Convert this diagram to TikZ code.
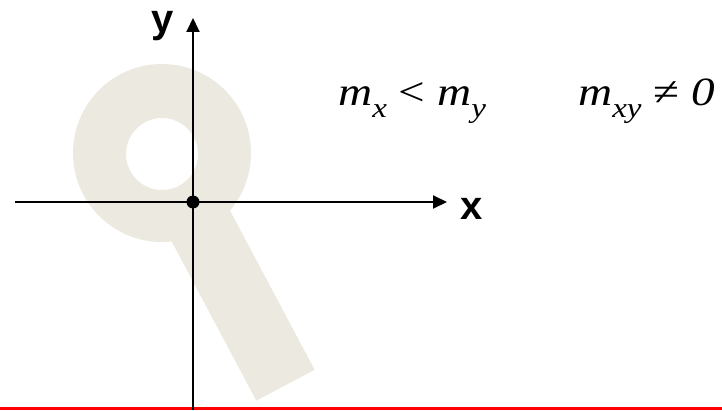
\documentclass[tikz,border=0pt]{standalone}
\usepackage{fontspec}
\setmainfont{Liberation Serif}
\newfontfamily\labelfont{Liberation Sans}
\usepackage{xcolor}
\usetikzlibrary{arrows.meta}

\definecolor{keybeige}{RGB}{236,234,224}
\newcommand{\subidx}[1]{\raisebox{-0.28em}{\fontsize{28}{28}\selectfont\itshape #1}}
\newcommand{\widetext}[1]{\scalebox{1.18}[1]{#1}}

\begin{document}
\begin{tikzpicture}[x=1pt, y=1pt,
    every node/.style={inner sep=0pt},
    axis/.style={line width=2pt, -{Triangle[length=14pt, width=13pt]}},
    axislabel/.style={font=\labelfont\bfseries\fontsize{40}{40}\selectfont,
        text height=0.55em, text depth=0.2em, anchor=base},
    formula/.style={font=\fontsize{40}{40}\selectfont, text height=0.7em, anchor=base west}]

% Frame
\useasboundingbox (0,0) rectangle (722,410);
\fill[white] (0,0) rectangle (722,410);

% Key shape (ring and handle)
\begin{scope}[shift={(162,257)}]
\fill[keybeige, even odd rule] (0,0) circle (89) (0,-1) circle (36);
\fill[keybeige, rotate=-62] (50,-33) -- (263,-33) -- (263,33) -- (50,33) -- cycle;
\end{scope}

% Red rule at the bottom
\fill[red] (0,0) rectangle (722,3.5);

% Axes
\coordinate (O) at (193,208);
\coordinate (xstart) at (15,208);
\coordinate (xend) at (447,208);
\coordinate (ystart) at (193,0);
\coordinate (yend) at (193,392);
\draw[axis] (xstart) -- (xend);
\draw[axis] (ystart) -- (yend);
\fill (O) circle (6.5);

% Axis labels
\node[axislabel] (xlabel) at (472,190) {x};
\node[axislabel] (ylabel) at (162.5,377) {y};

% Moments
\node[formula] (ineq) at (338,304) {\widetext{\textit{m}\subidx{x} < \textit{m}\subidx{y}}};
\node[formula] (prod) at (578,304) {\widetext{\textit{m}\subidx{xy} ≠ \textit{0}}};

\end{tikzpicture}
\end{document}
